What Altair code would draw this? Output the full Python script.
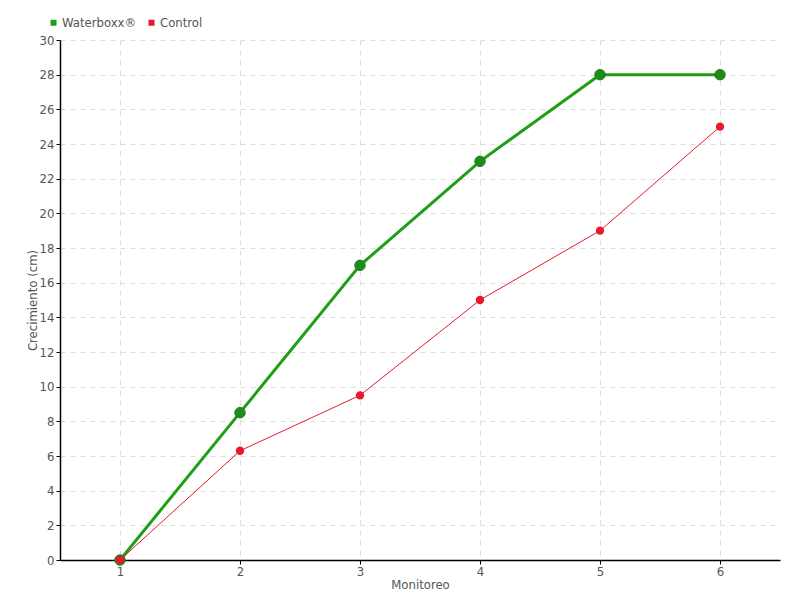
import altair as alt
import pandas as pd

monitoreo = [1, 2, 3, 4, 5, 6]
waterboxx = [0, 8.5, 17, 23, 28, 28]
control = [0, 6.3, 9.5, 15, 19, 25]
series = ["Waterboxx®", "Control"]
colors = ["#1f9e16", "#e8192c"]

rows = []
for m, w in zip(monitoreo, waterboxx):
    rows.append({"Monitoreo": m, "Valor": w, "Serie": series[0]})
for m, c in zip(monitoreo, control):
    rows.append({"Monitoreo": m, "Valor": c, "Serie": series[1]})
df = pd.DataFrame(rows)

FONT = "DejaVu Sans Condensed"

x = alt.X("Monitoreo:Q", title="Monitoreo",
          scale=alt.Scale(domain=[0.5, 6.5], nice=False, zero=False),
          axis=alt.Axis(values=monitoreo, format="d", tickCount=6))
y = alt.Y("Valor:Q", title="Crecimiento (cm)",
          scale=alt.Scale(domain=[0, 30], nice=False),
          axis=alt.Axis(values=list(range(0, 31, 2))))
color = alt.Color("Serie:N", scale=alt.Scale(domain=series, range=colors),
                  legend=alt.Legend(title=None, orient="none", direction="horizontal",
                                    legendX=-13, legendY=-24, symbolType="square",
                                    symbolSize=36, labelFontSize=13, labelColor="#555",
                                    labelFont=FONT, columnPadding=8, symbolStrokeWidth=0,
                                    labelOffset=2))

green = df[df.Serie == series[0]]
red = df[df.Serie == series[1]]

gline = alt.Chart(green).mark_line(strokeWidth=3).encode(x=x, y=y, color=color)
gpt = alt.Chart(green).mark_point(filled=True, size=110, opacity=1, fill="#1e8c18",
                                  stroke="#2a7a22", strokeWidth=1).encode(x=x, y=y, color=color)
rline = alt.Chart(red).mark_line(strokeWidth=1).encode(x=x, y=y, color=color)
rpt = alt.Chart(red).mark_point(filled=True, size=70, opacity=1).encode(x=x, y=y, color=color)

chart = alt.layer(gline, gpt, rline, rpt).properties(
    width=720, height=520,
    autosize=alt.AutoSizeParams(type="none"),
    padding={"left": 52, "top": 32, "right": 12, "bottom": 36},
).configure_view(stroke=None).configure_axis(
    grid=True, gridDash=[5, 5], gridColor="#dddddd", domainColor="#000", domainWidth=1.5,
    tickColor="#000", tickSize=4, labelFont=FONT, labelFontSize=13, labelColor="#555",
    titleFont=FONT, titleFontSize=13, titleColor="#555", titleFontWeight="normal",
).configure_axisY(titlePadding=0, labelPadding=2).configure_axisX(titlePadding=0, labelPadding=1)

chart.save("out.html", embed_options={"renderer": "svg", "actions": False})
